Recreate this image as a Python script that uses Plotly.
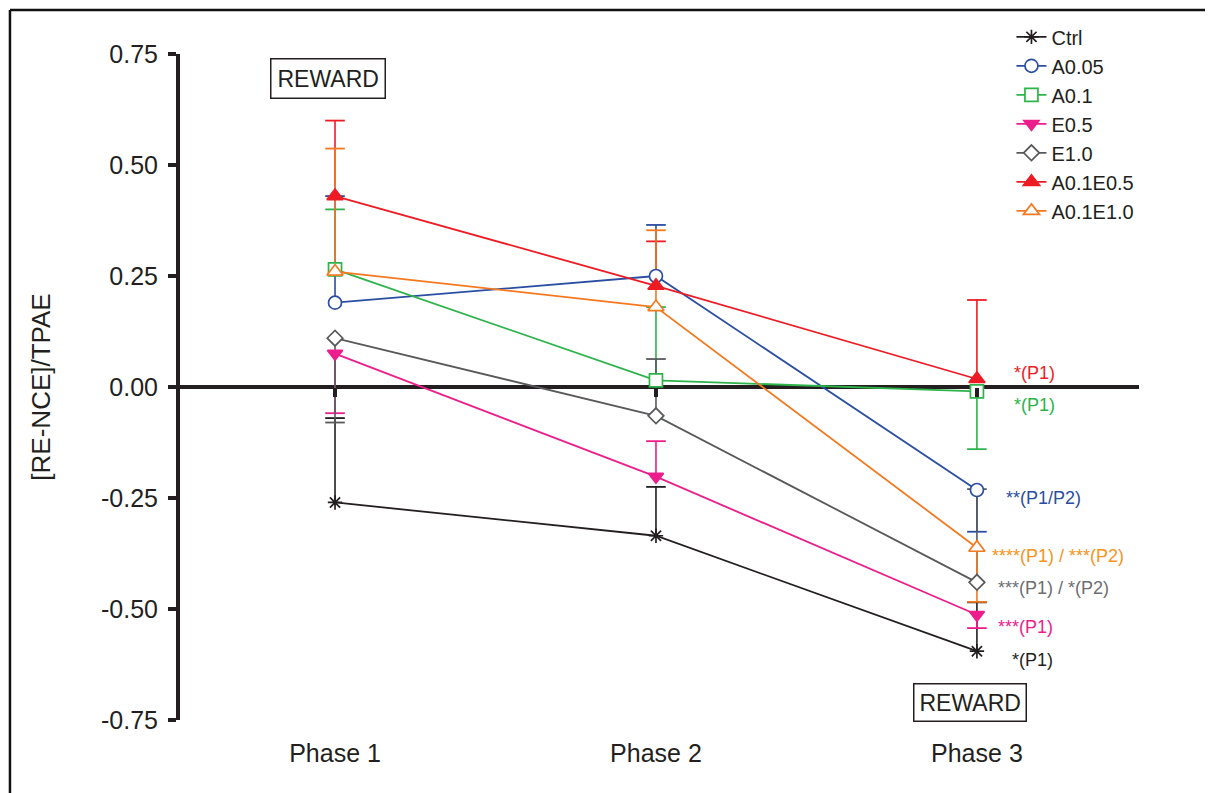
import plotly.graph_objects as go

# ---------------- data ----------------
phases = ["Phase 1", "Phase 2", "Phase 3"]
series_names = ["Ctrl", "A0.05", "A0.1", "E0.5", "E1.0", "A0.1E0.5", "A0.1E1.0"]

ctrl = [-0.26, -0.335, -0.595]
a005 = [0.19, 0.25, -0.232]
a01 = [0.265, 0.015, -0.01]
e05 = [0.075, -0.202, -0.513]
e10 = [0.11, -0.065, -0.44]
a01e05 = [0.43, 0.228, 0.018]
a01e10 = [0.26, 0.18, -0.362]

# signed one-sided error (SEM): positive = drawn upward, negative = drawn downward
ctrl_err = [0.19, 0.11, 0.11]
a005_err = [0.24, 0.115, -0.094]
a01_err = [0.135, 0.165, -0.13]
e05_err = [-0.134, 0.08, -0.03]
e10_err = [-0.19, 0.128, 0.21]
a01e05_err = [0.17, 0.10, 0.178]
a01e10_err = [0.277, 0.173, -0.122]

sig_labels = ["*(P1)", "**(P1/P2)", "*(P1)", "***(P1)", "***(P1) / *(P2)", "*(P1)", "****(P1) / ***(P2)"]

y_ticks = [0.75, 0.5, 0.25, 0.0, -0.25, -0.5, -0.75]
y_tick_labels = ["0.75", "0.50", "0.25", "0.00", "-0.25", "-0.50", "-0.75"]

# ---------------- styles ----------------
values = [ctrl, a005, a01, e05, e10, a01e05, a01e10]
errors = [ctrl_err, a005_err, a01_err, e05_err, e10_err, a01e05_err, a01e10_err]
colors = ["#231f20", "#2b4ea2", "#2db34a", "#ec1e8c", "#58595b", "#ed1c24", "#f47920"]
label_colors = ["#231f20", "#2b4ea2", "#2db34a", "#ec1e8c", "#6d6e71", "#ed1c24", "#f7941d"]
symbols = ["asterisk-open", "circle", "square", "triangle-down", "diamond", "triangle-up", "triangle-up"]
fills = [None, "white", "white", None, "white", None, "white"]
sizes = [12, 13, 13, 13, 12, 14, 14]
# label offsets in px relative to the Phase 3 point
label_shift = [(33, -9), (27, -8), (35, -14), (19, -12), (19, -6), (35, 6), (13, -8)]

FONT = "Arial, Liberation Sans, Helvetica, sans-serif"
xs = list(range(len(phases)))

fig = go.Figure()

# error bars (one-sided), drawn below the data lines
for name, vals, errs, col in zip(series_names, values, errors, colors):
    ex, ey, cx, cy = [], [], [], []
    for i, (v, e) in enumerate(zip(vals, errs)):
        ex += [xs[i], xs[i], None]
        ey += [v, v + e, None]
        cx.append(xs[i])
        cy.append(v + e)
    fig.add_trace(go.Scatter(x=ex, y=ey, mode="lines", line=dict(color=col, width=1.6),
                             showlegend=False, hoverinfo="skip"))
    fig.add_trace(go.Scatter(x=cx, y=cy, mode="markers",
                             marker=dict(symbol="line-ew-open", size=14, color=col,
                                         line=dict(color=col, width=1.8)),
                             showlegend=False, hoverinfo="skip"))

# series
for name, vals, col, sym, fill, sz in zip(series_names, values, colors, symbols, fills, sizes):
    mcol = fill if fill is not None else col
    fig.add_trace(go.Scatter(
        x=xs, y=vals, name=name, mode="lines+markers",
        line=dict(color=col, width=1.8),
        marker=dict(symbol=sym, size=sz, color=mcol, line=dict(color=col, width=1.7)),
    ))

# dummy trace for the zero-crossing tick axis
fig.add_trace(go.Scatter(x=xs, y=[0] * len(xs), xaxis="x2", mode="lines",
                         line=dict(width=0), showlegend=False, hoverinfo="skip"))

# significance labels at Phase 3
for vals, txt, lc, (dx, dy) in zip(values, sig_labels, label_colors, label_shift):
    fig.add_annotation(x=xs[-1], y=vals[-1], xref="x", yref="y", text=txt, showarrow=False,
                       xanchor="left", yanchor="middle", xshift=dx, yshift=dy,
                       font=dict(family=FONT, size=18, color=lc))

# REWARD boxes
fig.add_annotation(x=xs[0], y=0.694, xref="x", yref="y", text="REWARD", showarrow=False,
                   xshift=-7, font=dict(family=FONT, size=23, color="#231f20"),
                   bordercolor="#231f20", borderwidth=1.5, borderpad=6, bgcolor="white")
fig.add_annotation(x=xs[2], y=-0.71, xref="x", yref="y", text="REWARD", showarrow=False,
                   xshift=-7, font=dict(family=FONT, size=23, color="#231f20"),
                   bordercolor="#231f20", borderwidth=1.5, borderpad=5, bgcolor="white")

# outer frame
fig.add_shape(type="line", xref="paper", yref="paper", x0=-0.1773, x1=1.074, y0=1.066, y1=1.066,
              line=dict(color="#111", width=2.5))
fig.add_shape(type="line", xref="paper", yref="paper", x0=-0.1773, x1=-0.1773, y0=1.066, y1=-0.13,
              line=dict(color="#111", width=2.5))
fig.add_shape(type="line", xref="paper", yref="paper", x0=1.074, x1=1.074, y0=1.066, y1=-0.13,
              line=dict(color="#cfcfcf", width=1.5))

fig.update_layout(
    width=1213, height=793,
    margin=dict(l=172, r=82, t=46, b=81, autoexpand=False),
    paper_bgcolor="white", plot_bgcolor="white",
    font=dict(family=FONT, color="#231f20"),
    xaxis=dict(range=[-0.483, 2.505], tickvals=xs, ticktext=phases, showline=False,
               showgrid=False, zeroline=False, ticks="", ticklabelstandoff=16,
               tickfont=dict(size=25, color="#231f20")),
    xaxis2=dict(range=[-0.483, 2.505], overlaying="x", anchor="free", position=0.5, side="bottom",
                tickvals=xs, showticklabels=False, ticks="outside", ticklen=9, tickwidth=4,
                tickcolor="#231f20", showline=False, showgrid=False, zeroline=False),
    yaxis=dict(range=[-0.75, 0.75], tickvals=y_ticks, ticktext=y_tick_labels, showgrid=False,
               showline=True, linewidth=4, linecolor="#231f20", ticks="outside", ticklen=8,
               tickwidth=4, tickcolor="#231f20", ticklabelstandoff=5,
               tickfont=dict(size=25, color="#231f20"),
               zeroline=True, zerolinewidth=4, zerolinecolor="#231f20",
               title=dict(text="[RE-NCE]/TPAE", font=dict(size=26, color="#231f20"), standoff=44)),
    legend=dict(x=0.867, y=1.055, xanchor="left", yanchor="top", bgcolor="rgba(0,0,0,0)",
                font=dict(family=FONT, size=20, color="#231f20"), tracegroupgap=0,
                itemwidth=30),
    showlegend=True,
)

fig.write_html("out.html")
